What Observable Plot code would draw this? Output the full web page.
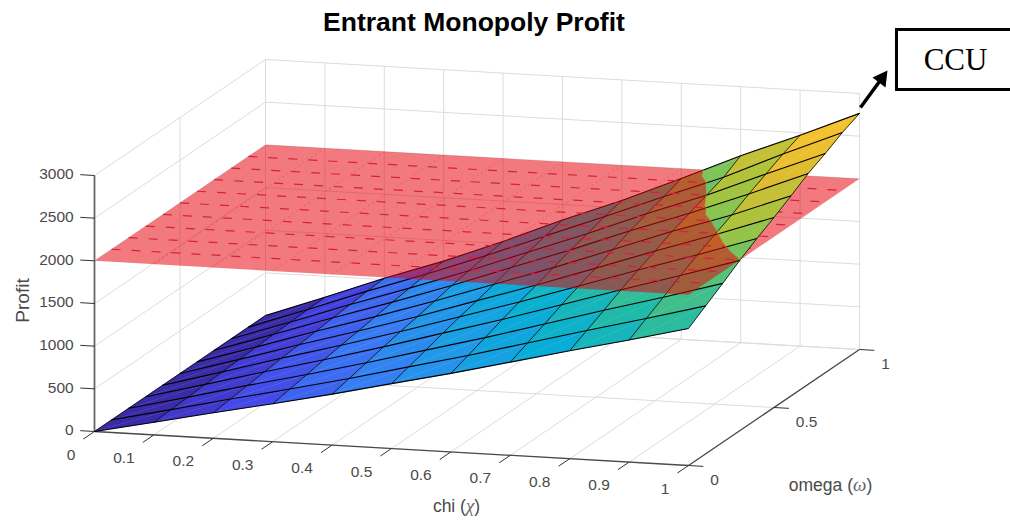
<!DOCTYPE html>
<html><head><meta charset="utf-8">
<script src="https://cdn.jsdelivr.net/npm/d3@7"></script>
<script src="https://cdn.jsdelivr.net/npm/@observablehq/plot@0.6"></script>
<style>
html,body{margin:0;padding:0;background:#fff;overflow:hidden}
#wrap{position:relative;width:1010px;height:520px}
#title{position:absolute;left:0;top:7px;width:948px;text-align:center;font:bold 26.5px "Liberation Sans",Arial,sans-serif;color:#000;z-index:2}
svg{display:block}
</style></head><body>
<div id="wrap"><div id="title">Entrant Monopoly Profit</div></div>
<script>
const chi = [0,0.1,0.2,0.3,0.4,0.5,0.6,0.7,0.8,0.9,1];
const omega = [0,0.1,0.2,0.3,0.4,0.5,0.6,0.7,0.8,0.9,1];
const chiTicks = ["0","0.1","0.2","0.3","0.4","0.5","0.6","0.7","0.8","0.9","1"];
const omegaTicks = [0,0.5,1];
const profitTicks = [0,500,1000,1500,2000,2500,3000];
const threshold = 2000;
// rows: omega, columns: chi
const profit = [
 [0,148,300,445,597,760,920,1092,1266,1431,1606],
 [0,160,324,481,645,821,994,1180,1367,1546,1735],
 [0,171,348,516,693,881,1067,1266,1467,1659,1862],
 [0,184,373,553,743,944,1144,1357,1573,1778,1996],
 [0,195,396,586,788,1001,1213,1440,1668,1886,2117],
 [0,205,416,617,828,1053,1276,1514,1755,1984,2227],
 [0,216,439,650,873,1110,1344,1595,1849,2080,2346],
 [0,227,462,684,919,1169,1416,1680,1925,2190,2471],
 [0,236,480,712,956,1215,1472,1747,2000,2289,2569],
 [0,247,501,742,997,1268,1536,1810,2075,2388,2680],
 [0,253,516,757,1027,1319,1587,1885,2192,2470,2767]
];
const parulaStops = ["#3a2ba8","#4545e6","#3a78f5","#1f9be8","#06aed6","#22bba8","#55c27a","#a2c53e","#e4bc30","#fdc62f","#f9fb15"];

// view of the 3D box (MATLAB-like orthographic projection)
const view = {x0:94,y0:431,xChi:594,yChi:34,xOm:171,yOm:-116,yZ:-256/3000};
const px = (c,o) => view.x0 + view.xChi*c + view.xOm*o;
const py = (c,o,z) => view.y0 + view.yChi*c + view.yOm*o + view.yZ*z;
const P = (c,o,z) => ({x:px(c,o),y:py(c,o,z)});
const seg = (a,b,extra={}) => ({x1:a.x,y1:a.y,x2:b.x,y2:b.y,...extra});

const zMax = d3.max(profit.flat());
const parula = d3.scaleLinear().domain(parulaStops.map((_,i)=>i/(parulaStops.length-1))).range(parulaStops).interpolate(d3.interpolateRgb);

function clip(poly, keepAbove){
  const out=[];
  for(let i=0;i<poly.length;i++){
    const a=poly[i], b=poly[(i+1)%poly.length];
    const ia = keepAbove ? a[2]>=threshold : a[2]<=threshold;
    const ib = keepAbove ? b[2]>=threshold : b[2]<=threshold;
    if(ia) out.push(a);
    if(ia!==ib){
      const t=(threshold-a[2])/(b[2]-a[2]);
      out.push([a[0]+t*(b[0]-a[0]),a[1]+t*(b[1]-a[1]),threshold]);
    }
  }
  return out;
}
const lowerCells=[], upperCells=[];
let id=0;
for(let j=0;j<omega.length-1;j++) for(let i=0;i<chi.length-1;i++){
  const V=(a,b)=>[chi[a],omega[b],profit[b][a]];
  const col=parula(profit[j][i]/zMax);
  const tris=[[V(i,j),V(i+1,j),V(i+1,j+1)],[V(i,j),V(i+1,j+1),V(i,j+1)]];
  for(const tri of tris){
    for(const [poly,store] of [[clip(tri,false),lowerCells],[clip(tri,true),upperCells]]){
      if(poly.length<3) continue;
      id++;
      for(const q of poly) store.push({...P(q[0],q[1],q[2]),id,col});
    }
  }
}
const lowerMesh=[], upperMesh=[];
function addEdge(a,b,kind){
  const A=[...a],B=[...b];
  const low=(A[2]<=threshold&&B[2]<=threshold), high=(A[2]>=threshold&&B[2]>=threshold);
  const p=q=>P(q[0],q[1],q[2]);
  if(low) lowerMesh.push(seg(p(A),p(B),{kind}));
  else if(high) upperMesh.push(seg(p(A),p(B),{kind}));
  else{
    const t=(threshold-A[2])/(B[2]-A[2]);
    const M=[A[0]+t*(B[0]-A[0]),A[1]+t*(B[1]-A[1]),threshold];
    const [L,H]=A[2]<B[2]?[A,B]:[B,A];
    lowerMesh.push(seg(p(L),p(M),{kind}));
    upperMesh.push(seg(p(M),p(H),{kind}));
  }
}
omega.forEach((o,j)=>{ for(let i=0;i<chi.length-1;i++) addEdge([chi[i],o,profit[j][i]],[chi[i+1],o,profit[j][i+1]],"om"); });
chi.forEach((c,i)=>{ for(let j=0;j<omega.length-1;j++) addEdge([c,omega[j],profit[j][i]],[c,omega[j+1],profit[j+1][i]],"chi"); });

const plane=[P(0,0,threshold),P(1,0,threshold),P(1,1,threshold),P(0,1,threshold)];
const planeRows=omega.slice(1,-1).map(o=>seg(P(0,o,threshold),P(1,o,threshold)));
const planeCols=chi.slice(1,-1).map(c=>seg(P(c,0,threshold),P(c,1,threshold)));

const gridChi=chiTicks.map(Number);
const grid=[
  ...gridChi.map(c=>seg(P(c,0,0),P(c,1,0))),
  ...gridChi.map(c=>seg(P(c,1,0),P(c,1,3000))),
  ...omegaTicks.map(o=>seg(P(0,o,0),P(1,o,0))),
  ...omegaTicks.map(o=>seg(P(0,o,0),P(0,o,3000))),
  ...profitTicks.map(z=>seg(P(0,1,z),P(1,1,z))),
  ...profitTicks.map(z=>seg(P(0,0,z),P(0,1,z)))
];
const axes=[seg(P(0,0,0),P(1,0,0)),seg(P(1,0,0),P(1,1,0))];
const zAxis=[seg(P(0,0,0),P(0,0,3000))];
const ticks=[
  ...profitTicks.map(z=>seg(P(-0.024,0,z),P(0,0,z))),
  ...gridChi.map(c=>seg(P(c,-0.065,0),P(c,0,0))),
  ...omegaTicks.map(o=>seg(P(1,o,0),P(1.025,o,0)))
];
const profitLabels=profitTicks.map(z=>({...P(-0.03,0,z),t:String(z)}));
const chiLabels=chiTicks.map((t,i)=>({...P(gridChi[i],-0.2,0),t}));
const omegaLabels=omegaTicks.map(o=>({...P(1.04,o,0),t:String(o)}));

const txt={fontFamily:"'Liberation Sans',Arial,sans-serif",fontSize:15.5,fill:"#4a4a4a"};
const chart=Plot.plot({
  width:1010,height:520,margin:0,
  x:{domain:[0,1010],range:[0,1010],axis:null},
  y:{domain:[0,520],range:[0,520],axis:null},
  style:{background:"#fff",overflow:"hidden"},
  marks:[
    Plot.link(grid,{x1:"x1",y1:"y1",x2:"x2",y2:"y2",stroke:"#dcdcdc",strokeWidth:1}),
    Plot.link(axes,{x1:"x1",y1:"y1",x2:"x2",y2:"y2",stroke:"#4a4a4a",strokeWidth:1.3}),
    Plot.link(zAxis,{x1:"x1",y1:"y1",x2:"x2",y2:"y2",stroke:"#666",strokeWidth:1.8}),
    Plot.link(ticks,{x1:"x1",y1:"y1",x2:"x2",y2:"y2",stroke:"#333",strokeWidth:1}),
    Plot.line(lowerCells,{x:"x",y:"y",z:"id",fill:"col",stroke:"col",strokeWidth:0.4,curve:"linear-closed"}),
    Plot.link(lowerMesh.filter(d=>d.kind==="chi"),{x1:"x1",y1:"y1",x2:"x2",y2:"y2",stroke:"#000",strokeWidth:0.8}),
    Plot.link(lowerMesh.filter(d=>d.kind==="om"),{x1:"x1",y1:"y1",x2:"x2",y2:"y2",stroke:"#000",strokeWidth:1.1}),
    Plot.line(plane,{x:"x",y:"y",fill:"#e70008",fillOpacity:0.52,stroke:"none",curve:"linear-closed"}),
    Plot.link(planeRows,{x1:"x1",y1:"y1",x2:"x2",y2:"y2",stroke:"#d62040",strokeWidth:1.2,strokeDasharray:"9 11"}),
    Plot.link(planeCols,{x1:"x1",y1:"y1",x2:"x2",y2:"y2",stroke:"#d62f45",strokeWidth:0.6,strokeOpacity:0.7,strokeDasharray:"2 3"}),
    Plot.line(upperCells,{x:"x",y:"y",z:"id",fill:"col",stroke:"col",strokeWidth:0.4,curve:"linear-closed"}),
    Plot.link(upperMesh.filter(d=>d.kind==="chi"),{x1:"x1",y1:"y1",x2:"x2",y2:"y2",stroke:"#000",strokeWidth:0.8}),
    Plot.link(upperMesh.filter(d=>d.kind==="om"),{x1:"x1",y1:"y1",x2:"x2",y2:"y2",stroke:"#000",strokeWidth:1.1}),
    Plot.text(profitLabels,{x:"x",y:"y",text:"t",textAnchor:"end",dx:-3,...txt}),
    Plot.text(chiLabels,{x:"x",y:"y",text:"t",textAnchor:"end",dx:15,...txt}),
    Plot.text(omegaLabels,{x:"x",y:"y",text:"t",textAnchor:"start",dx:-2,dy:13,...txt}),
    Plot.text([{x:22,y:300,t:"Profit"}],{x:"x",y:"y",text:"t",rotate:-90,...txt,fontSize:19}),
    Plot.text([{x:456,y:506,t:"chi (χ)"}],{x:"x",y:"y",text:"t",...txt,fontSize:17.5}),
    Plot.text([{x:830,y:485,t:"omega (ω)"}],{x:"x",y:"y",text:"t",...txt,fontSize:17.5}),
    Plot.rect([{x1:896.5,x2:1016,y1:29.5,y2:89.5}],{x1:"x1",x2:"x2",y1:"y1",y2:"y2",fill:"#fff",stroke:"#000",strokeWidth:3}),
    Plot.text([{x:955,y:60,t:"CCU"}],{x:"x",y:"y",text:"t",fontFamily:"'Liberation Serif',serif",fontSize:31,fill:"#000"}),
    Plot.link([{x1:860,y1:107,x2:879,y2:81}],{x1:"x1",y1:"y1",x2:"x2",y2:"y2",stroke:"#000",strokeWidth:3.5}),
    Plot.line([{x:887,y:70},{x:872,y:77},{x:885,y:87}],{x:"x",y:"y",fill:"#000",stroke:"none",curve:"linear-closed"})
  ]
});
d3.select(chart).selectAll("text").filter(function(){return /[χω]/.test(this.textContent);}).each(function(){
  const s=this.textContent, m=s.match(/^(.*\()(.)(\))$/);
  const t=d3.select(this); t.text(m[1]);
  t.append("tspan").attr("font-family","'Liberation Serif',serif").attr("font-style","italic").attr("font-size",19).attr("fill","#666").text(m[2]);
  t.append("tspan").text(m[3]);
});
document.getElementById("wrap").appendChild(chart);
</script></body></html>
